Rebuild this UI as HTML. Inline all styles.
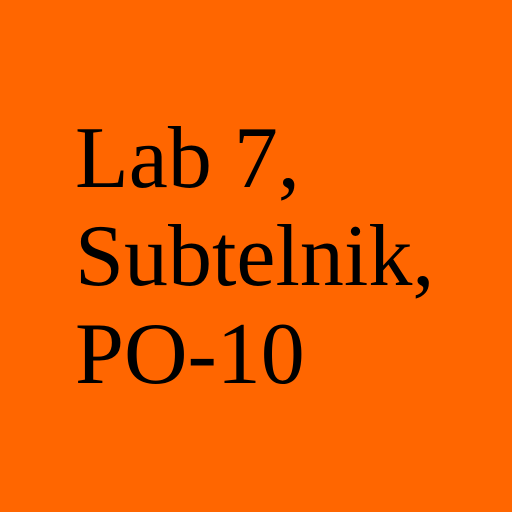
<!DOCTYPE html>
<html><head><meta charset="utf-8"><style>
html,body{margin:0;padding:0;width:512px;height:512px;overflow:hidden;background:#FF6600;}
svg{display:block}
</style></head><body>
<svg width="512" height="512" xmlns="http://www.w3.org/2000/svg">
<rect width="512" height="512" fill="#FF6600"/>
<g font-family="'Liberation Serif', serif" font-size="88" fill="#000">
<text x="75" y="187">Lab 7,</text>
<text x="75" y="285">Subtelnik,</text>
<text x="75" y="383">PO-10</text>
</g>
</svg>
</body></html>
